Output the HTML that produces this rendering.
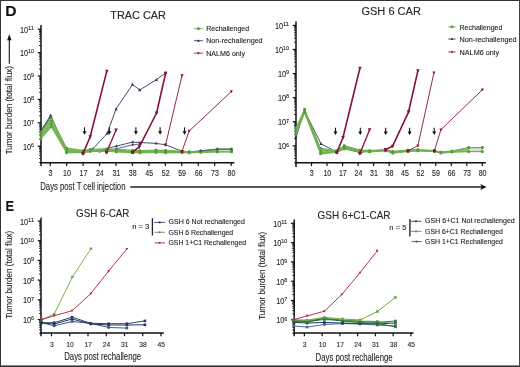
<!DOCTYPE html>
<html><head><meta charset="utf-8"><style>
html,body{margin:0;padding:0;background:#fff;overflow:hidden;}
svg{display:block;will-change:transform;}
text{stroke:#2a2a2a;stroke-width:0.12px;}
</style></head><body>
<svg width="520" height="367" viewBox="0 0 520 367" font-family='"Liberation Sans", sans-serif'>
<rect x="0" y="0" width="520" height="367" fill="#fff"/>
<text x="5.25" y="15.65" font-size="13.80" font-weight="bold" fill="#111" textLength="11.29" lengthAdjust="spacingAndGlyphs">D</text>
<text x="5.60" y="211.35" font-size="13.80" font-weight="bold" fill="#111" textLength="8.54" lengthAdjust="spacingAndGlyphs">E</text>
<text x="110.35" y="19.15" font-size="11.45" font-weight="normal" fill="#262626" textLength="55.57" lengthAdjust="spacingAndGlyphs">TRAC CAR</text>
<text x="361.40" y="15.20" font-size="11.64" font-weight="normal" fill="#262626" textLength="59.57" lengthAdjust="spacingAndGlyphs">GSH 6 CAR</text>
<text x="76.05" y="217.40" font-size="10.34" font-weight="normal" fill="#262626" textLength="53.37" lengthAdjust="spacingAndGlyphs">GSH 6-CAR</text>
<text x="317.60" y="219.18" font-size="10.12" font-weight="normal" fill="#262626" textLength="72.92" lengthAdjust="spacingAndGlyphs">GSH 6+C1-CAR</text>
<text x="206.20" y="31.15" font-size="6.90" font-weight="normal" fill="#262626" textLength="42.97" lengthAdjust="spacingAndGlyphs">Rechallenged</text>
<text x="206.20" y="43.25" font-size="6.90" font-weight="normal" fill="#262626" textLength="56.42" lengthAdjust="spacingAndGlyphs">Non-rechallenged</text>
<text x="206.20" y="56.05" font-size="6.90" font-weight="normal" fill="#262626" textLength="38.77" lengthAdjust="spacingAndGlyphs">NALM6 only</text>
<text x="459.50" y="30.00" font-size="6.75" font-weight="normal" fill="#262626" textLength="42.92" lengthAdjust="spacingAndGlyphs">Rechallenged</text>
<text x="459.50" y="41.60" font-size="6.75" font-weight="normal" fill="#262626" textLength="57.02" lengthAdjust="spacingAndGlyphs">Non-rechallenged</text>
<text x="459.50" y="54.65" font-size="6.75" font-weight="normal" fill="#262626" textLength="39.61" lengthAdjust="spacingAndGlyphs">NALM6 only</text>
<text x="168.45" y="224.25" font-size="6.70" font-weight="normal" fill="#262626" textLength="76.51" lengthAdjust="spacingAndGlyphs">GSH 6 Not rechallenged</text>
<text x="168.45" y="234.50" font-size="6.70" font-weight="normal" fill="#262626" textLength="64.76" lengthAdjust="spacingAndGlyphs">GSH 6 Rechallenged</text>
<text x="168.45" y="244.85" font-size="6.70" font-weight="normal" fill="#262626" textLength="77.61" lengthAdjust="spacingAndGlyphs">GSH 1+C1 Rechallenged</text>
<text x="425.10" y="223.30" font-size="6.90" font-weight="normal" fill="#262626" textLength="89.71" lengthAdjust="spacingAndGlyphs">GSH 6+C1 Not rechallenged</text>
<text x="425.10" y="233.65" font-size="6.90" font-weight="normal" fill="#262626" textLength="77.76" lengthAdjust="spacingAndGlyphs">GSH 6+C1 Rechallenged</text>
<text x="425.10" y="243.70" font-size="6.90" font-weight="normal" fill="#262626" textLength="77.76" lengthAdjust="spacingAndGlyphs">GSH 1+C1 Rechallenged</text>
<text x="132.15" y="229.15" font-size="7.23" font-weight="normal" fill="#262626" textLength="17.16" lengthAdjust="spacingAndGlyphs">n = 3</text>
<text x="389.35" y="229.77" font-size="7.67" font-weight="normal" fill="#262626" textLength="17.00" lengthAdjust="spacingAndGlyphs">n = 5</text>
<text x="40.25" y="190.25" font-size="10.40" font-weight="normal" fill="#262626" textLength="85.22" lengthAdjust="spacingAndGlyphs">Days post T cell injection</text>
<text x="64.20" y="360.15" font-size="10.40" font-weight="normal" fill="#262626" textLength="76.96" lengthAdjust="spacingAndGlyphs">Days post rechallenge</text>
<text x="315.55" y="360.90" font-size="10.40" font-weight="normal" fill="#262626" textLength="77.11" lengthAdjust="spacingAndGlyphs">Days post rechallenge</text>
<text transform="translate(12.15,154.30) rotate(-90)" font-size="9.60" font-weight="normal" fill="#262626" textLength="88.21" lengthAdjust="spacingAndGlyphs">Tumor burden (total flux)</text>
<text transform="translate(12.10,318.80) rotate(-90)" font-size="9.60" font-weight="normal" fill="#262626" textLength="87.95" lengthAdjust="spacingAndGlyphs">Tumor burden (total flux)</text>
<text transform="translate(265.20,319.80) rotate(-90)" font-size="9.60" font-weight="normal" fill="#262626" textLength="87.95" lengthAdjust="spacingAndGlyphs">Tumor burden (total flux)</text>
<line x1="41.00" y1="25.00" x2="41.00" y2="166.00" stroke="#111" stroke-width="1.5"/>
<line x1="37.70" y1="29.20" x2="41.00" y2="29.20" stroke="#111" stroke-width="1.2"/>
<text x="28.00" y="30.00" font-size="6.0" fill="#262626" textLength="6.00" lengthAdjust="spacingAndGlyphs">11</text>
<text x="19.97" y="32.70" font-size="8.6" fill="#262626" textLength="8.22" lengthAdjust="spacingAndGlyphs">10</text>
<line x1="37.70" y1="52.60" x2="41.00" y2="52.60" stroke="#111" stroke-width="1.2"/>
<text x="28.00" y="53.40" font-size="6.0" fill="#262626" textLength="6.00" lengthAdjust="spacingAndGlyphs">10</text>
<text x="19.97" y="56.10" font-size="8.6" fill="#262626" textLength="8.22" lengthAdjust="spacingAndGlyphs">10</text>
<line x1="37.70" y1="76.00" x2="41.00" y2="76.00" stroke="#111" stroke-width="1.2"/>
<text x="31.00" y="76.80" font-size="6.0" fill="#262626" textLength="3.00" lengthAdjust="spacingAndGlyphs">9</text>
<text x="22.97" y="79.50" font-size="8.6" fill="#262626" textLength="8.22" lengthAdjust="spacingAndGlyphs">10</text>
<line x1="37.70" y1="99.40" x2="41.00" y2="99.40" stroke="#111" stroke-width="1.2"/>
<text x="31.00" y="100.20" font-size="6.0" fill="#262626" textLength="3.00" lengthAdjust="spacingAndGlyphs">8</text>
<text x="22.97" y="102.90" font-size="8.6" fill="#262626" textLength="8.22" lengthAdjust="spacingAndGlyphs">10</text>
<line x1="37.70" y1="122.80" x2="41.00" y2="122.80" stroke="#111" stroke-width="1.2"/>
<text x="31.00" y="123.60" font-size="6.0" fill="#262626" textLength="3.00" lengthAdjust="spacingAndGlyphs">7</text>
<text x="22.97" y="126.30" font-size="8.6" fill="#262626" textLength="8.22" lengthAdjust="spacingAndGlyphs">10</text>
<line x1="37.70" y1="146.20" x2="41.00" y2="146.20" stroke="#111" stroke-width="1.2"/>
<text x="31.00" y="147.00" font-size="6.0" fill="#262626" textLength="3.00" lengthAdjust="spacingAndGlyphs">6</text>
<text x="22.97" y="149.70" font-size="8.6" fill="#262626" textLength="8.22" lengthAdjust="spacingAndGlyphs">10</text>
<line x1="39.10" y1="45.56" x2="41.00" y2="45.56" stroke="#111" stroke-width="0.9"/>
<line x1="39.10" y1="41.44" x2="41.00" y2="41.44" stroke="#111" stroke-width="0.9"/>
<line x1="39.10" y1="38.51" x2="41.00" y2="38.51" stroke="#111" stroke-width="0.9"/>
<line x1="39.10" y1="36.24" x2="41.00" y2="36.24" stroke="#111" stroke-width="0.9"/>
<line x1="39.10" y1="34.39" x2="41.00" y2="34.39" stroke="#111" stroke-width="0.9"/>
<line x1="39.10" y1="32.82" x2="41.00" y2="32.82" stroke="#111" stroke-width="0.9"/>
<line x1="39.10" y1="31.47" x2="41.00" y2="31.47" stroke="#111" stroke-width="0.9"/>
<line x1="39.10" y1="30.27" x2="41.00" y2="30.27" stroke="#111" stroke-width="0.9"/>
<line x1="39.10" y1="68.96" x2="41.00" y2="68.96" stroke="#111" stroke-width="0.9"/>
<line x1="39.10" y1="64.84" x2="41.00" y2="64.84" stroke="#111" stroke-width="0.9"/>
<line x1="39.10" y1="61.91" x2="41.00" y2="61.91" stroke="#111" stroke-width="0.9"/>
<line x1="39.10" y1="59.64" x2="41.00" y2="59.64" stroke="#111" stroke-width="0.9"/>
<line x1="39.10" y1="57.79" x2="41.00" y2="57.79" stroke="#111" stroke-width="0.9"/>
<line x1="39.10" y1="56.22" x2="41.00" y2="56.22" stroke="#111" stroke-width="0.9"/>
<line x1="39.10" y1="54.87" x2="41.00" y2="54.87" stroke="#111" stroke-width="0.9"/>
<line x1="39.10" y1="53.67" x2="41.00" y2="53.67" stroke="#111" stroke-width="0.9"/>
<line x1="39.10" y1="92.36" x2="41.00" y2="92.36" stroke="#111" stroke-width="0.9"/>
<line x1="39.10" y1="88.24" x2="41.00" y2="88.24" stroke="#111" stroke-width="0.9"/>
<line x1="39.10" y1="85.31" x2="41.00" y2="85.31" stroke="#111" stroke-width="0.9"/>
<line x1="39.10" y1="83.04" x2="41.00" y2="83.04" stroke="#111" stroke-width="0.9"/>
<line x1="39.10" y1="81.19" x2="41.00" y2="81.19" stroke="#111" stroke-width="0.9"/>
<line x1="39.10" y1="79.62" x2="41.00" y2="79.62" stroke="#111" stroke-width="0.9"/>
<line x1="39.10" y1="78.27" x2="41.00" y2="78.27" stroke="#111" stroke-width="0.9"/>
<line x1="39.10" y1="77.07" x2="41.00" y2="77.07" stroke="#111" stroke-width="0.9"/>
<line x1="39.10" y1="115.76" x2="41.00" y2="115.76" stroke="#111" stroke-width="0.9"/>
<line x1="39.10" y1="111.64" x2="41.00" y2="111.64" stroke="#111" stroke-width="0.9"/>
<line x1="39.10" y1="108.71" x2="41.00" y2="108.71" stroke="#111" stroke-width="0.9"/>
<line x1="39.10" y1="106.44" x2="41.00" y2="106.44" stroke="#111" stroke-width="0.9"/>
<line x1="39.10" y1="104.59" x2="41.00" y2="104.59" stroke="#111" stroke-width="0.9"/>
<line x1="39.10" y1="103.02" x2="41.00" y2="103.02" stroke="#111" stroke-width="0.9"/>
<line x1="39.10" y1="101.67" x2="41.00" y2="101.67" stroke="#111" stroke-width="0.9"/>
<line x1="39.10" y1="100.47" x2="41.00" y2="100.47" stroke="#111" stroke-width="0.9"/>
<line x1="39.10" y1="139.16" x2="41.00" y2="139.16" stroke="#111" stroke-width="0.9"/>
<line x1="39.10" y1="135.04" x2="41.00" y2="135.04" stroke="#111" stroke-width="0.9"/>
<line x1="39.10" y1="132.11" x2="41.00" y2="132.11" stroke="#111" stroke-width="0.9"/>
<line x1="39.10" y1="129.84" x2="41.00" y2="129.84" stroke="#111" stroke-width="0.9"/>
<line x1="39.10" y1="127.99" x2="41.00" y2="127.99" stroke="#111" stroke-width="0.9"/>
<line x1="39.10" y1="126.42" x2="41.00" y2="126.42" stroke="#111" stroke-width="0.9"/>
<line x1="39.10" y1="125.07" x2="41.00" y2="125.07" stroke="#111" stroke-width="0.9"/>
<line x1="39.10" y1="123.87" x2="41.00" y2="123.87" stroke="#111" stroke-width="0.9"/>
<line x1="39.10" y1="162.56" x2="41.00" y2="162.56" stroke="#111" stroke-width="0.9"/>
<line x1="39.10" y1="158.44" x2="41.00" y2="158.44" stroke="#111" stroke-width="0.9"/>
<line x1="39.10" y1="155.51" x2="41.00" y2="155.51" stroke="#111" stroke-width="0.9"/>
<line x1="39.10" y1="153.24" x2="41.00" y2="153.24" stroke="#111" stroke-width="0.9"/>
<line x1="39.10" y1="151.39" x2="41.00" y2="151.39" stroke="#111" stroke-width="0.9"/>
<line x1="39.10" y1="149.82" x2="41.00" y2="149.82" stroke="#111" stroke-width="0.9"/>
<line x1="39.10" y1="148.47" x2="41.00" y2="148.47" stroke="#111" stroke-width="0.9"/>
<line x1="39.10" y1="147.27" x2="41.00" y2="147.27" stroke="#111" stroke-width="0.9"/>
<line x1="40.25" y1="162.70" x2="234.40" y2="162.70" stroke="#111" stroke-width="1.5"/>
<line x1="50.20" y1="162.70" x2="50.20" y2="166.00" stroke="#111" stroke-width="1.2"/>
<text x="50.50" y="176.20" font-size="8.2" fill="#262626" font-weight="normal" text-anchor="middle" textLength="3.92" lengthAdjust="spacingAndGlyphs" >3</text>
<line x1="66.65" y1="162.70" x2="66.65" y2="166.00" stroke="#111" stroke-width="1.2"/>
<text x="66.95" y="176.20" font-size="8.2" fill="#262626" font-weight="normal" text-anchor="middle" textLength="7.84" lengthAdjust="spacingAndGlyphs" >10</text>
<line x1="83.10" y1="162.70" x2="83.10" y2="166.00" stroke="#111" stroke-width="1.2"/>
<text x="83.40" y="176.20" font-size="8.2" fill="#262626" font-weight="normal" text-anchor="middle" textLength="7.84" lengthAdjust="spacingAndGlyphs" >17</text>
<line x1="99.55" y1="162.70" x2="99.55" y2="166.00" stroke="#111" stroke-width="1.2"/>
<text x="99.85" y="176.20" font-size="8.2" fill="#262626" font-weight="normal" text-anchor="middle" textLength="7.84" lengthAdjust="spacingAndGlyphs" >24</text>
<line x1="116.00" y1="162.70" x2="116.00" y2="166.00" stroke="#111" stroke-width="1.2"/>
<text x="116.30" y="176.20" font-size="8.2" fill="#262626" font-weight="normal" text-anchor="middle" textLength="7.84" lengthAdjust="spacingAndGlyphs" >31</text>
<line x1="132.45" y1="162.70" x2="132.45" y2="166.00" stroke="#111" stroke-width="1.2"/>
<text x="132.75" y="176.20" font-size="8.2" fill="#262626" font-weight="normal" text-anchor="middle" textLength="7.84" lengthAdjust="spacingAndGlyphs" >38</text>
<line x1="148.90" y1="162.70" x2="148.90" y2="166.00" stroke="#111" stroke-width="1.2"/>
<text x="149.20" y="176.20" font-size="8.2" fill="#262626" font-weight="normal" text-anchor="middle" textLength="7.84" lengthAdjust="spacingAndGlyphs" >45</text>
<line x1="165.35" y1="162.70" x2="165.35" y2="166.00" stroke="#111" stroke-width="1.2"/>
<text x="165.65" y="176.20" font-size="8.2" fill="#262626" font-weight="normal" text-anchor="middle" textLength="7.84" lengthAdjust="spacingAndGlyphs" >52</text>
<line x1="181.80" y1="162.70" x2="181.80" y2="166.00" stroke="#111" stroke-width="1.2"/>
<text x="182.10" y="176.20" font-size="8.2" fill="#262626" font-weight="normal" text-anchor="middle" textLength="7.84" lengthAdjust="spacingAndGlyphs" >59</text>
<line x1="198.25" y1="162.70" x2="198.25" y2="166.00" stroke="#111" stroke-width="1.2"/>
<text x="198.55" y="176.20" font-size="8.2" fill="#262626" font-weight="normal" text-anchor="middle" textLength="7.84" lengthAdjust="spacingAndGlyphs" >66</text>
<line x1="214.70" y1="162.70" x2="214.70" y2="166.00" stroke="#111" stroke-width="1.2"/>
<text x="215.00" y="176.20" font-size="8.2" fill="#262626" font-weight="normal" text-anchor="middle" textLength="7.84" lengthAdjust="spacingAndGlyphs" >73</text>
<line x1="231.15" y1="162.70" x2="231.15" y2="166.00" stroke="#111" stroke-width="1.2"/>
<text x="231.45" y="176.20" font-size="8.2" fill="#262626" font-weight="normal" text-anchor="middle" textLength="7.84" lengthAdjust="spacingAndGlyphs" >80</text>
<line x1="296.00" y1="21.50" x2="296.00" y2="167.00" stroke="#111" stroke-width="1.5"/>
<line x1="292.70" y1="25.40" x2="296.00" y2="25.40" stroke="#111" stroke-width="1.2"/>
<text x="283.00" y="26.20" font-size="6.0" fill="#262626" textLength="6.00" lengthAdjust="spacingAndGlyphs">11</text>
<text x="274.97" y="28.90" font-size="8.6" fill="#262626" textLength="8.22" lengthAdjust="spacingAndGlyphs">10</text>
<line x1="292.70" y1="49.48" x2="296.00" y2="49.48" stroke="#111" stroke-width="1.2"/>
<text x="283.00" y="50.28" font-size="6.0" fill="#262626" textLength="6.00" lengthAdjust="spacingAndGlyphs">10</text>
<text x="274.97" y="52.98" font-size="8.6" fill="#262626" textLength="8.22" lengthAdjust="spacingAndGlyphs">10</text>
<line x1="292.70" y1="73.56" x2="296.00" y2="73.56" stroke="#111" stroke-width="1.2"/>
<text x="286.00" y="74.36" font-size="6.0" fill="#262626" textLength="3.00" lengthAdjust="spacingAndGlyphs">9</text>
<text x="277.97" y="77.06" font-size="8.6" fill="#262626" textLength="8.22" lengthAdjust="spacingAndGlyphs">10</text>
<line x1="292.70" y1="97.64" x2="296.00" y2="97.64" stroke="#111" stroke-width="1.2"/>
<text x="286.00" y="98.44" font-size="6.0" fill="#262626" textLength="3.00" lengthAdjust="spacingAndGlyphs">8</text>
<text x="277.97" y="101.14" font-size="8.6" fill="#262626" textLength="8.22" lengthAdjust="spacingAndGlyphs">10</text>
<line x1="292.70" y1="121.72" x2="296.00" y2="121.72" stroke="#111" stroke-width="1.2"/>
<text x="286.00" y="122.52" font-size="6.0" fill="#262626" textLength="3.00" lengthAdjust="spacingAndGlyphs">7</text>
<text x="277.97" y="125.22" font-size="8.6" fill="#262626" textLength="8.22" lengthAdjust="spacingAndGlyphs">10</text>
<line x1="292.70" y1="145.80" x2="296.00" y2="145.80" stroke="#111" stroke-width="1.2"/>
<text x="286.00" y="146.60" font-size="6.0" fill="#262626" textLength="3.00" lengthAdjust="spacingAndGlyphs">6</text>
<text x="277.97" y="149.30" font-size="8.6" fill="#262626" textLength="8.22" lengthAdjust="spacingAndGlyphs">10</text>
<line x1="294.10" y1="42.23" x2="296.00" y2="42.23" stroke="#111" stroke-width="0.9"/>
<line x1="294.10" y1="37.99" x2="296.00" y2="37.99" stroke="#111" stroke-width="0.9"/>
<line x1="294.10" y1="34.98" x2="296.00" y2="34.98" stroke="#111" stroke-width="0.9"/>
<line x1="294.10" y1="32.65" x2="296.00" y2="32.65" stroke="#111" stroke-width="0.9"/>
<line x1="294.10" y1="30.74" x2="296.00" y2="30.74" stroke="#111" stroke-width="0.9"/>
<line x1="294.10" y1="29.13" x2="296.00" y2="29.13" stroke="#111" stroke-width="0.9"/>
<line x1="294.10" y1="27.73" x2="296.00" y2="27.73" stroke="#111" stroke-width="0.9"/>
<line x1="294.10" y1="26.50" x2="296.00" y2="26.50" stroke="#111" stroke-width="0.9"/>
<line x1="294.10" y1="66.31" x2="296.00" y2="66.31" stroke="#111" stroke-width="0.9"/>
<line x1="294.10" y1="62.07" x2="296.00" y2="62.07" stroke="#111" stroke-width="0.9"/>
<line x1="294.10" y1="59.06" x2="296.00" y2="59.06" stroke="#111" stroke-width="0.9"/>
<line x1="294.10" y1="56.73" x2="296.00" y2="56.73" stroke="#111" stroke-width="0.9"/>
<line x1="294.10" y1="54.82" x2="296.00" y2="54.82" stroke="#111" stroke-width="0.9"/>
<line x1="294.10" y1="53.21" x2="296.00" y2="53.21" stroke="#111" stroke-width="0.9"/>
<line x1="294.10" y1="51.81" x2="296.00" y2="51.81" stroke="#111" stroke-width="0.9"/>
<line x1="294.10" y1="50.58" x2="296.00" y2="50.58" stroke="#111" stroke-width="0.9"/>
<line x1="294.10" y1="90.39" x2="296.00" y2="90.39" stroke="#111" stroke-width="0.9"/>
<line x1="294.10" y1="86.15" x2="296.00" y2="86.15" stroke="#111" stroke-width="0.9"/>
<line x1="294.10" y1="83.14" x2="296.00" y2="83.14" stroke="#111" stroke-width="0.9"/>
<line x1="294.10" y1="80.81" x2="296.00" y2="80.81" stroke="#111" stroke-width="0.9"/>
<line x1="294.10" y1="78.90" x2="296.00" y2="78.90" stroke="#111" stroke-width="0.9"/>
<line x1="294.10" y1="77.29" x2="296.00" y2="77.29" stroke="#111" stroke-width="0.9"/>
<line x1="294.10" y1="75.89" x2="296.00" y2="75.89" stroke="#111" stroke-width="0.9"/>
<line x1="294.10" y1="74.66" x2="296.00" y2="74.66" stroke="#111" stroke-width="0.9"/>
<line x1="294.10" y1="114.47" x2="296.00" y2="114.47" stroke="#111" stroke-width="0.9"/>
<line x1="294.10" y1="110.23" x2="296.00" y2="110.23" stroke="#111" stroke-width="0.9"/>
<line x1="294.10" y1="107.22" x2="296.00" y2="107.22" stroke="#111" stroke-width="0.9"/>
<line x1="294.10" y1="104.89" x2="296.00" y2="104.89" stroke="#111" stroke-width="0.9"/>
<line x1="294.10" y1="102.98" x2="296.00" y2="102.98" stroke="#111" stroke-width="0.9"/>
<line x1="294.10" y1="101.37" x2="296.00" y2="101.37" stroke="#111" stroke-width="0.9"/>
<line x1="294.10" y1="99.97" x2="296.00" y2="99.97" stroke="#111" stroke-width="0.9"/>
<line x1="294.10" y1="98.74" x2="296.00" y2="98.74" stroke="#111" stroke-width="0.9"/>
<line x1="294.10" y1="138.55" x2="296.00" y2="138.55" stroke="#111" stroke-width="0.9"/>
<line x1="294.10" y1="134.31" x2="296.00" y2="134.31" stroke="#111" stroke-width="0.9"/>
<line x1="294.10" y1="131.30" x2="296.00" y2="131.30" stroke="#111" stroke-width="0.9"/>
<line x1="294.10" y1="128.97" x2="296.00" y2="128.97" stroke="#111" stroke-width="0.9"/>
<line x1="294.10" y1="127.06" x2="296.00" y2="127.06" stroke="#111" stroke-width="0.9"/>
<line x1="294.10" y1="125.45" x2="296.00" y2="125.45" stroke="#111" stroke-width="0.9"/>
<line x1="294.10" y1="124.05" x2="296.00" y2="124.05" stroke="#111" stroke-width="0.9"/>
<line x1="294.10" y1="122.82" x2="296.00" y2="122.82" stroke="#111" stroke-width="0.9"/>
<line x1="294.10" y1="162.63" x2="296.00" y2="162.63" stroke="#111" stroke-width="0.9"/>
<line x1="294.10" y1="158.39" x2="296.00" y2="158.39" stroke="#111" stroke-width="0.9"/>
<line x1="294.10" y1="155.38" x2="296.00" y2="155.38" stroke="#111" stroke-width="0.9"/>
<line x1="294.10" y1="153.05" x2="296.00" y2="153.05" stroke="#111" stroke-width="0.9"/>
<line x1="294.10" y1="151.14" x2="296.00" y2="151.14" stroke="#111" stroke-width="0.9"/>
<line x1="294.10" y1="149.53" x2="296.00" y2="149.53" stroke="#111" stroke-width="0.9"/>
<line x1="294.10" y1="148.13" x2="296.00" y2="148.13" stroke="#111" stroke-width="0.9"/>
<line x1="294.10" y1="146.90" x2="296.00" y2="146.90" stroke="#111" stroke-width="0.9"/>
<line x1="295.25" y1="162.80" x2="485.80" y2="162.80" stroke="#111" stroke-width="1.5"/>
<line x1="311.50" y1="162.80" x2="311.50" y2="166.10" stroke="#111" stroke-width="1.2"/>
<text x="311.80" y="176.20" font-size="8.2" fill="#262626" font-weight="normal" text-anchor="middle" textLength="3.92" lengthAdjust="spacingAndGlyphs" >3</text>
<line x1="327.03" y1="162.80" x2="327.03" y2="166.10" stroke="#111" stroke-width="1.2"/>
<text x="327.33" y="176.20" font-size="8.2" fill="#262626" font-weight="normal" text-anchor="middle" textLength="7.84" lengthAdjust="spacingAndGlyphs" >10</text>
<line x1="342.56" y1="162.80" x2="342.56" y2="166.10" stroke="#111" stroke-width="1.2"/>
<text x="342.86" y="176.20" font-size="8.2" fill="#262626" font-weight="normal" text-anchor="middle" textLength="7.84" lengthAdjust="spacingAndGlyphs" >17</text>
<line x1="358.09" y1="162.80" x2="358.09" y2="166.10" stroke="#111" stroke-width="1.2"/>
<text x="358.39" y="176.20" font-size="8.2" fill="#262626" font-weight="normal" text-anchor="middle" textLength="7.84" lengthAdjust="spacingAndGlyphs" >24</text>
<line x1="373.62" y1="162.80" x2="373.62" y2="166.10" stroke="#111" stroke-width="1.2"/>
<text x="373.92" y="176.20" font-size="8.2" fill="#262626" font-weight="normal" text-anchor="middle" textLength="7.84" lengthAdjust="spacingAndGlyphs" >31</text>
<line x1="389.15" y1="162.80" x2="389.15" y2="166.10" stroke="#111" stroke-width="1.2"/>
<text x="389.45" y="176.20" font-size="8.2" fill="#262626" font-weight="normal" text-anchor="middle" textLength="7.84" lengthAdjust="spacingAndGlyphs" >38</text>
<line x1="404.68" y1="162.80" x2="404.68" y2="166.10" stroke="#111" stroke-width="1.2"/>
<text x="404.98" y="176.20" font-size="8.2" fill="#262626" font-weight="normal" text-anchor="middle" textLength="7.84" lengthAdjust="spacingAndGlyphs" >45</text>
<line x1="420.21" y1="162.80" x2="420.21" y2="166.10" stroke="#111" stroke-width="1.2"/>
<text x="420.51" y="176.20" font-size="8.2" fill="#262626" font-weight="normal" text-anchor="middle" textLength="7.84" lengthAdjust="spacingAndGlyphs" >52</text>
<line x1="435.74" y1="162.80" x2="435.74" y2="166.10" stroke="#111" stroke-width="1.2"/>
<text x="436.04" y="176.20" font-size="8.2" fill="#262626" font-weight="normal" text-anchor="middle" textLength="7.84" lengthAdjust="spacingAndGlyphs" >59</text>
<line x1="451.27" y1="162.80" x2="451.27" y2="166.10" stroke="#111" stroke-width="1.2"/>
<text x="451.57" y="176.20" font-size="8.2" fill="#262626" font-weight="normal" text-anchor="middle" textLength="7.84" lengthAdjust="spacingAndGlyphs" >66</text>
<line x1="466.80" y1="162.80" x2="466.80" y2="166.10" stroke="#111" stroke-width="1.2"/>
<text x="467.10" y="176.20" font-size="8.2" fill="#262626" font-weight="normal" text-anchor="middle" textLength="7.84" lengthAdjust="spacingAndGlyphs" >73</text>
<line x1="482.33" y1="162.80" x2="482.33" y2="166.10" stroke="#111" stroke-width="1.2"/>
<text x="482.63" y="176.20" font-size="8.2" fill="#262626" font-weight="normal" text-anchor="middle" textLength="7.84" lengthAdjust="spacingAndGlyphs" >80</text>
<line x1="41.00" y1="217.70" x2="41.00" y2="336.20" stroke="#111" stroke-width="1.5"/>
<line x1="37.70" y1="221.00" x2="41.00" y2="221.00" stroke="#111" stroke-width="1.2"/>
<text x="28.00" y="221.80" font-size="6.0" fill="#262626" textLength="6.00" lengthAdjust="spacingAndGlyphs">11</text>
<text x="19.97" y="224.50" font-size="8.6" fill="#262626" textLength="8.22" lengthAdjust="spacingAndGlyphs">10</text>
<line x1="37.70" y1="240.70" x2="41.00" y2="240.70" stroke="#111" stroke-width="1.2"/>
<text x="28.00" y="241.50" font-size="6.0" fill="#262626" textLength="6.00" lengthAdjust="spacingAndGlyphs">10</text>
<text x="19.97" y="244.20" font-size="8.6" fill="#262626" textLength="8.22" lengthAdjust="spacingAndGlyphs">10</text>
<line x1="37.70" y1="260.40" x2="41.00" y2="260.40" stroke="#111" stroke-width="1.2"/>
<text x="31.00" y="261.20" font-size="6.0" fill="#262626" textLength="3.00" lengthAdjust="spacingAndGlyphs">9</text>
<text x="22.97" y="263.90" font-size="8.6" fill="#262626" textLength="8.22" lengthAdjust="spacingAndGlyphs">10</text>
<line x1="37.70" y1="280.10" x2="41.00" y2="280.10" stroke="#111" stroke-width="1.2"/>
<text x="31.00" y="280.90" font-size="6.0" fill="#262626" textLength="3.00" lengthAdjust="spacingAndGlyphs">8</text>
<text x="22.97" y="283.60" font-size="8.6" fill="#262626" textLength="8.22" lengthAdjust="spacingAndGlyphs">10</text>
<line x1="37.70" y1="299.80" x2="41.00" y2="299.80" stroke="#111" stroke-width="1.2"/>
<text x="31.00" y="300.60" font-size="6.0" fill="#262626" textLength="3.00" lengthAdjust="spacingAndGlyphs">7</text>
<text x="22.97" y="303.30" font-size="8.6" fill="#262626" textLength="8.22" lengthAdjust="spacingAndGlyphs">10</text>
<line x1="37.70" y1="319.50" x2="41.00" y2="319.50" stroke="#111" stroke-width="1.2"/>
<text x="31.00" y="320.30" font-size="6.0" fill="#262626" textLength="3.00" lengthAdjust="spacingAndGlyphs">6</text>
<text x="22.97" y="323.00" font-size="8.6" fill="#262626" textLength="8.22" lengthAdjust="spacingAndGlyphs">10</text>
<line x1="39.10" y1="234.77" x2="41.00" y2="234.77" stroke="#111" stroke-width="0.9"/>
<line x1="39.10" y1="231.30" x2="41.00" y2="231.30" stroke="#111" stroke-width="0.9"/>
<line x1="39.10" y1="228.84" x2="41.00" y2="228.84" stroke="#111" stroke-width="0.9"/>
<line x1="39.10" y1="226.93" x2="41.00" y2="226.93" stroke="#111" stroke-width="0.9"/>
<line x1="39.10" y1="225.37" x2="41.00" y2="225.37" stroke="#111" stroke-width="0.9"/>
<line x1="39.10" y1="224.05" x2="41.00" y2="224.05" stroke="#111" stroke-width="0.9"/>
<line x1="39.10" y1="222.91" x2="41.00" y2="222.91" stroke="#111" stroke-width="0.9"/>
<line x1="39.10" y1="221.90" x2="41.00" y2="221.90" stroke="#111" stroke-width="0.9"/>
<line x1="39.10" y1="254.47" x2="41.00" y2="254.47" stroke="#111" stroke-width="0.9"/>
<line x1="39.10" y1="251.00" x2="41.00" y2="251.00" stroke="#111" stroke-width="0.9"/>
<line x1="39.10" y1="248.54" x2="41.00" y2="248.54" stroke="#111" stroke-width="0.9"/>
<line x1="39.10" y1="246.63" x2="41.00" y2="246.63" stroke="#111" stroke-width="0.9"/>
<line x1="39.10" y1="245.07" x2="41.00" y2="245.07" stroke="#111" stroke-width="0.9"/>
<line x1="39.10" y1="243.75" x2="41.00" y2="243.75" stroke="#111" stroke-width="0.9"/>
<line x1="39.10" y1="242.61" x2="41.00" y2="242.61" stroke="#111" stroke-width="0.9"/>
<line x1="39.10" y1="241.60" x2="41.00" y2="241.60" stroke="#111" stroke-width="0.9"/>
<line x1="39.10" y1="274.17" x2="41.00" y2="274.17" stroke="#111" stroke-width="0.9"/>
<line x1="39.10" y1="270.70" x2="41.00" y2="270.70" stroke="#111" stroke-width="0.9"/>
<line x1="39.10" y1="268.24" x2="41.00" y2="268.24" stroke="#111" stroke-width="0.9"/>
<line x1="39.10" y1="266.33" x2="41.00" y2="266.33" stroke="#111" stroke-width="0.9"/>
<line x1="39.10" y1="264.77" x2="41.00" y2="264.77" stroke="#111" stroke-width="0.9"/>
<line x1="39.10" y1="263.45" x2="41.00" y2="263.45" stroke="#111" stroke-width="0.9"/>
<line x1="39.10" y1="262.31" x2="41.00" y2="262.31" stroke="#111" stroke-width="0.9"/>
<line x1="39.10" y1="261.30" x2="41.00" y2="261.30" stroke="#111" stroke-width="0.9"/>
<line x1="39.10" y1="293.87" x2="41.00" y2="293.87" stroke="#111" stroke-width="0.9"/>
<line x1="39.10" y1="290.40" x2="41.00" y2="290.40" stroke="#111" stroke-width="0.9"/>
<line x1="39.10" y1="287.94" x2="41.00" y2="287.94" stroke="#111" stroke-width="0.9"/>
<line x1="39.10" y1="286.03" x2="41.00" y2="286.03" stroke="#111" stroke-width="0.9"/>
<line x1="39.10" y1="284.47" x2="41.00" y2="284.47" stroke="#111" stroke-width="0.9"/>
<line x1="39.10" y1="283.15" x2="41.00" y2="283.15" stroke="#111" stroke-width="0.9"/>
<line x1="39.10" y1="282.01" x2="41.00" y2="282.01" stroke="#111" stroke-width="0.9"/>
<line x1="39.10" y1="281.00" x2="41.00" y2="281.00" stroke="#111" stroke-width="0.9"/>
<line x1="39.10" y1="313.57" x2="41.00" y2="313.57" stroke="#111" stroke-width="0.9"/>
<line x1="39.10" y1="310.10" x2="41.00" y2="310.10" stroke="#111" stroke-width="0.9"/>
<line x1="39.10" y1="307.64" x2="41.00" y2="307.64" stroke="#111" stroke-width="0.9"/>
<line x1="39.10" y1="305.73" x2="41.00" y2="305.73" stroke="#111" stroke-width="0.9"/>
<line x1="39.10" y1="304.17" x2="41.00" y2="304.17" stroke="#111" stroke-width="0.9"/>
<line x1="39.10" y1="302.85" x2="41.00" y2="302.85" stroke="#111" stroke-width="0.9"/>
<line x1="39.10" y1="301.71" x2="41.00" y2="301.71" stroke="#111" stroke-width="0.9"/>
<line x1="39.10" y1="300.70" x2="41.00" y2="300.70" stroke="#111" stroke-width="0.9"/>
<line x1="39.10" y1="333.27" x2="41.00" y2="333.27" stroke="#111" stroke-width="0.9"/>
<line x1="39.10" y1="329.80" x2="41.00" y2="329.80" stroke="#111" stroke-width="0.9"/>
<line x1="39.10" y1="327.34" x2="41.00" y2="327.34" stroke="#111" stroke-width="0.9"/>
<line x1="39.10" y1="325.43" x2="41.00" y2="325.43" stroke="#111" stroke-width="0.9"/>
<line x1="39.10" y1="323.87" x2="41.00" y2="323.87" stroke="#111" stroke-width="0.9"/>
<line x1="39.10" y1="322.55" x2="41.00" y2="322.55" stroke="#111" stroke-width="0.9"/>
<line x1="39.10" y1="321.41" x2="41.00" y2="321.41" stroke="#111" stroke-width="0.9"/>
<line x1="39.10" y1="320.40" x2="41.00" y2="320.40" stroke="#111" stroke-width="0.9"/>
<line x1="40.25" y1="332.90" x2="163.75" y2="332.90" stroke="#111" stroke-width="1.5"/>
<line x1="51.50" y1="332.90" x2="51.50" y2="336.20" stroke="#111" stroke-width="1.2"/>
<text x="51.80" y="346.60" font-size="7.8" fill="#262626" font-weight="normal" text-anchor="middle" textLength="3.73" lengthAdjust="spacingAndGlyphs" >3</text>
<line x1="69.75" y1="332.90" x2="69.75" y2="336.20" stroke="#111" stroke-width="1.2"/>
<text x="70.05" y="346.60" font-size="7.8" fill="#262626" font-weight="normal" text-anchor="middle" textLength="7.46" lengthAdjust="spacingAndGlyphs" >10</text>
<line x1="88.00" y1="332.90" x2="88.00" y2="336.20" stroke="#111" stroke-width="1.2"/>
<text x="88.30" y="346.60" font-size="7.8" fill="#262626" font-weight="normal" text-anchor="middle" textLength="7.46" lengthAdjust="spacingAndGlyphs" >17</text>
<line x1="106.25" y1="332.90" x2="106.25" y2="336.20" stroke="#111" stroke-width="1.2"/>
<text x="106.55" y="346.60" font-size="7.8" fill="#262626" font-weight="normal" text-anchor="middle" textLength="7.46" lengthAdjust="spacingAndGlyphs" >24</text>
<line x1="124.50" y1="332.90" x2="124.50" y2="336.20" stroke="#111" stroke-width="1.2"/>
<text x="124.80" y="346.60" font-size="7.8" fill="#262626" font-weight="normal" text-anchor="middle" textLength="7.46" lengthAdjust="spacingAndGlyphs" >31</text>
<line x1="142.75" y1="332.90" x2="142.75" y2="336.20" stroke="#111" stroke-width="1.2"/>
<text x="143.05" y="346.60" font-size="7.8" fill="#262626" font-weight="normal" text-anchor="middle" textLength="7.46" lengthAdjust="spacingAndGlyphs" >38</text>
<line x1="161.00" y1="332.90" x2="161.00" y2="336.20" stroke="#111" stroke-width="1.2"/>
<text x="161.30" y="346.60" font-size="7.8" fill="#262626" font-weight="normal" text-anchor="middle" textLength="7.46" lengthAdjust="spacingAndGlyphs" >45</text>
<line x1="294.20" y1="219.60" x2="294.20" y2="336.20" stroke="#111" stroke-width="1.5"/>
<line x1="290.90" y1="223.30" x2="294.20" y2="223.30" stroke="#111" stroke-width="1.2"/>
<text x="281.20" y="224.10" font-size="6.0" fill="#262626" textLength="6.00" lengthAdjust="spacingAndGlyphs">11</text>
<text x="273.17" y="226.80" font-size="8.6" fill="#262626" textLength="8.22" lengthAdjust="spacingAndGlyphs">10</text>
<line x1="290.90" y1="242.60" x2="294.20" y2="242.60" stroke="#111" stroke-width="1.2"/>
<text x="281.20" y="243.40" font-size="6.0" fill="#262626" textLength="6.00" lengthAdjust="spacingAndGlyphs">10</text>
<text x="273.17" y="246.10" font-size="8.6" fill="#262626" textLength="8.22" lengthAdjust="spacingAndGlyphs">10</text>
<line x1="290.90" y1="261.90" x2="294.20" y2="261.90" stroke="#111" stroke-width="1.2"/>
<text x="284.20" y="262.70" font-size="6.0" fill="#262626" textLength="3.00" lengthAdjust="spacingAndGlyphs">9</text>
<text x="276.17" y="265.40" font-size="8.6" fill="#262626" textLength="8.22" lengthAdjust="spacingAndGlyphs">10</text>
<line x1="290.90" y1="281.20" x2="294.20" y2="281.20" stroke="#111" stroke-width="1.2"/>
<text x="284.20" y="282.00" font-size="6.0" fill="#262626" textLength="3.00" lengthAdjust="spacingAndGlyphs">8</text>
<text x="276.17" y="284.70" font-size="8.6" fill="#262626" textLength="8.22" lengthAdjust="spacingAndGlyphs">10</text>
<line x1="290.90" y1="300.50" x2="294.20" y2="300.50" stroke="#111" stroke-width="1.2"/>
<text x="284.20" y="301.30" font-size="6.0" fill="#262626" textLength="3.00" lengthAdjust="spacingAndGlyphs">7</text>
<text x="276.17" y="304.00" font-size="8.6" fill="#262626" textLength="8.22" lengthAdjust="spacingAndGlyphs">10</text>
<line x1="290.90" y1="319.80" x2="294.20" y2="319.80" stroke="#111" stroke-width="1.2"/>
<text x="284.20" y="320.60" font-size="6.0" fill="#262626" textLength="3.00" lengthAdjust="spacingAndGlyphs">6</text>
<text x="276.17" y="323.30" font-size="8.6" fill="#262626" textLength="8.22" lengthAdjust="spacingAndGlyphs">10</text>
<line x1="292.30" y1="236.79" x2="294.20" y2="236.79" stroke="#111" stroke-width="0.9"/>
<line x1="292.30" y1="233.39" x2="294.20" y2="233.39" stroke="#111" stroke-width="0.9"/>
<line x1="292.30" y1="230.98" x2="294.20" y2="230.98" stroke="#111" stroke-width="0.9"/>
<line x1="292.30" y1="229.11" x2="294.20" y2="229.11" stroke="#111" stroke-width="0.9"/>
<line x1="292.30" y1="227.58" x2="294.20" y2="227.58" stroke="#111" stroke-width="0.9"/>
<line x1="292.30" y1="226.29" x2="294.20" y2="226.29" stroke="#111" stroke-width="0.9"/>
<line x1="292.30" y1="225.17" x2="294.20" y2="225.17" stroke="#111" stroke-width="0.9"/>
<line x1="292.30" y1="224.18" x2="294.20" y2="224.18" stroke="#111" stroke-width="0.9"/>
<line x1="292.30" y1="256.09" x2="294.20" y2="256.09" stroke="#111" stroke-width="0.9"/>
<line x1="292.30" y1="252.69" x2="294.20" y2="252.69" stroke="#111" stroke-width="0.9"/>
<line x1="292.30" y1="250.28" x2="294.20" y2="250.28" stroke="#111" stroke-width="0.9"/>
<line x1="292.30" y1="248.41" x2="294.20" y2="248.41" stroke="#111" stroke-width="0.9"/>
<line x1="292.30" y1="246.88" x2="294.20" y2="246.88" stroke="#111" stroke-width="0.9"/>
<line x1="292.30" y1="245.59" x2="294.20" y2="245.59" stroke="#111" stroke-width="0.9"/>
<line x1="292.30" y1="244.47" x2="294.20" y2="244.47" stroke="#111" stroke-width="0.9"/>
<line x1="292.30" y1="243.48" x2="294.20" y2="243.48" stroke="#111" stroke-width="0.9"/>
<line x1="292.30" y1="275.39" x2="294.20" y2="275.39" stroke="#111" stroke-width="0.9"/>
<line x1="292.30" y1="271.99" x2="294.20" y2="271.99" stroke="#111" stroke-width="0.9"/>
<line x1="292.30" y1="269.58" x2="294.20" y2="269.58" stroke="#111" stroke-width="0.9"/>
<line x1="292.30" y1="267.71" x2="294.20" y2="267.71" stroke="#111" stroke-width="0.9"/>
<line x1="292.30" y1="266.18" x2="294.20" y2="266.18" stroke="#111" stroke-width="0.9"/>
<line x1="292.30" y1="264.89" x2="294.20" y2="264.89" stroke="#111" stroke-width="0.9"/>
<line x1="292.30" y1="263.77" x2="294.20" y2="263.77" stroke="#111" stroke-width="0.9"/>
<line x1="292.30" y1="262.78" x2="294.20" y2="262.78" stroke="#111" stroke-width="0.9"/>
<line x1="292.30" y1="294.69" x2="294.20" y2="294.69" stroke="#111" stroke-width="0.9"/>
<line x1="292.30" y1="291.29" x2="294.20" y2="291.29" stroke="#111" stroke-width="0.9"/>
<line x1="292.30" y1="288.88" x2="294.20" y2="288.88" stroke="#111" stroke-width="0.9"/>
<line x1="292.30" y1="287.01" x2="294.20" y2="287.01" stroke="#111" stroke-width="0.9"/>
<line x1="292.30" y1="285.48" x2="294.20" y2="285.48" stroke="#111" stroke-width="0.9"/>
<line x1="292.30" y1="284.19" x2="294.20" y2="284.19" stroke="#111" stroke-width="0.9"/>
<line x1="292.30" y1="283.07" x2="294.20" y2="283.07" stroke="#111" stroke-width="0.9"/>
<line x1="292.30" y1="282.08" x2="294.20" y2="282.08" stroke="#111" stroke-width="0.9"/>
<line x1="292.30" y1="313.99" x2="294.20" y2="313.99" stroke="#111" stroke-width="0.9"/>
<line x1="292.30" y1="310.59" x2="294.20" y2="310.59" stroke="#111" stroke-width="0.9"/>
<line x1="292.30" y1="308.18" x2="294.20" y2="308.18" stroke="#111" stroke-width="0.9"/>
<line x1="292.30" y1="306.31" x2="294.20" y2="306.31" stroke="#111" stroke-width="0.9"/>
<line x1="292.30" y1="304.78" x2="294.20" y2="304.78" stroke="#111" stroke-width="0.9"/>
<line x1="292.30" y1="303.49" x2="294.20" y2="303.49" stroke="#111" stroke-width="0.9"/>
<line x1="292.30" y1="302.37" x2="294.20" y2="302.37" stroke="#111" stroke-width="0.9"/>
<line x1="292.30" y1="301.38" x2="294.20" y2="301.38" stroke="#111" stroke-width="0.9"/>
<line x1="292.30" y1="333.29" x2="294.20" y2="333.29" stroke="#111" stroke-width="0.9"/>
<line x1="292.30" y1="329.89" x2="294.20" y2="329.89" stroke="#111" stroke-width="0.9"/>
<line x1="292.30" y1="327.48" x2="294.20" y2="327.48" stroke="#111" stroke-width="0.9"/>
<line x1="292.30" y1="325.61" x2="294.20" y2="325.61" stroke="#111" stroke-width="0.9"/>
<line x1="292.30" y1="324.08" x2="294.20" y2="324.08" stroke="#111" stroke-width="0.9"/>
<line x1="292.30" y1="322.79" x2="294.20" y2="322.79" stroke="#111" stroke-width="0.9"/>
<line x1="292.30" y1="321.67" x2="294.20" y2="321.67" stroke="#111" stroke-width="0.9"/>
<line x1="292.30" y1="320.68" x2="294.20" y2="320.68" stroke="#111" stroke-width="0.9"/>
<line x1="293.45" y1="333.00" x2="413.50" y2="333.00" stroke="#111" stroke-width="1.5"/>
<line x1="304.40" y1="333.00" x2="304.40" y2="336.30" stroke="#111" stroke-width="1.2"/>
<text x="304.70" y="346.60" font-size="7.8" fill="#262626" font-weight="normal" text-anchor="middle" textLength="3.73" lengthAdjust="spacingAndGlyphs" >3</text>
<line x1="322.15" y1="333.00" x2="322.15" y2="336.30" stroke="#111" stroke-width="1.2"/>
<text x="322.45" y="346.60" font-size="7.8" fill="#262626" font-weight="normal" text-anchor="middle" textLength="7.46" lengthAdjust="spacingAndGlyphs" >10</text>
<line x1="339.90" y1="333.00" x2="339.90" y2="336.30" stroke="#111" stroke-width="1.2"/>
<text x="340.20" y="346.60" font-size="7.8" fill="#262626" font-weight="normal" text-anchor="middle" textLength="7.46" lengthAdjust="spacingAndGlyphs" >17</text>
<line x1="357.65" y1="333.00" x2="357.65" y2="336.30" stroke="#111" stroke-width="1.2"/>
<text x="357.95" y="346.60" font-size="7.8" fill="#262626" font-weight="normal" text-anchor="middle" textLength="7.46" lengthAdjust="spacingAndGlyphs" >24</text>
<line x1="375.40" y1="333.00" x2="375.40" y2="336.30" stroke="#111" stroke-width="1.2"/>
<text x="375.70" y="346.60" font-size="7.8" fill="#262626" font-weight="normal" text-anchor="middle" textLength="7.46" lengthAdjust="spacingAndGlyphs" >31</text>
<line x1="393.15" y1="333.00" x2="393.15" y2="336.30" stroke="#111" stroke-width="1.2"/>
<text x="393.45" y="346.60" font-size="7.8" fill="#262626" font-weight="normal" text-anchor="middle" textLength="7.46" lengthAdjust="spacingAndGlyphs" >38</text>
<line x1="410.90" y1="333.00" x2="410.90" y2="336.30" stroke="#111" stroke-width="1.2"/>
<text x="411.20" y="346.60" font-size="7.8" fill="#262626" font-weight="normal" text-anchor="middle" textLength="7.46" lengthAdjust="spacingAndGlyphs" >45</text>
<line x1="130.30" y1="187.00" x2="482.00" y2="187.00" stroke="#222" stroke-width="1.4"/>
<path d="M486.6,187.0 L480.2,183.9 L481.8,187.0 L480.2,190.1Z" fill="#111"/>
<line x1="9.30" y1="63.70" x2="9.30" y2="39.00" stroke="#111" stroke-width="1.1"/>
<path d="M9.3,34.3 L7.1,40.2 L11.5,40.2Z" fill="#111"/>
<line x1="193.90" y1="28.70" x2="202.90" y2="28.70" stroke="#5c9e3c" stroke-width="0.8"/>
<rect x="197.10" y="27.40" width="2.60" height="2.60" fill="#5c9e3c"/>
<line x1="193.90" y1="40.70" x2="202.90" y2="40.70" stroke="#1f2a6b" stroke-width="0.8"/>
<path d="M198.40,39.14 L199.70,41.74 L197.10,41.74Z" fill="#1f2a6b"/>
<line x1="193.90" y1="53.20" x2="202.90" y2="53.20" stroke="#8a1530" stroke-width="0.8"/>
<path d="M198.40,54.76 L199.70,52.16 L197.10,52.16Z" fill="#8a1530"/>
<line x1="448.20" y1="26.80" x2="455.60" y2="26.80" stroke="#5c9e3c" stroke-width="0.8"/>
<rect x="450.60" y="25.50" width="2.60" height="2.60" fill="#5c9e3c"/>
<line x1="448.20" y1="39.00" x2="455.60" y2="39.00" stroke="#1f2a6b" stroke-width="0.8"/>
<path d="M451.90,37.44 L453.20,40.04 L450.60,40.04Z" fill="#1f2a6b"/>
<line x1="448.20" y1="52.00" x2="455.60" y2="52.00" stroke="#8a1530" stroke-width="0.8"/>
<path d="M451.90,53.56 L453.20,50.96 L450.60,50.96Z" fill="#8a1530"/>
<line x1="152.40" y1="218.10" x2="152.40" y2="235.50" stroke="#222" stroke-width="1.3"/>
<line x1="154.20" y1="222.40" x2="165.10" y2="222.40" stroke="#262a5a" stroke-width="0.8"/>
<rect x="158.75" y="221.50" width="1.80" height="1.80" fill="#262a5a"/>
<line x1="154.20" y1="232.30" x2="165.10" y2="232.30" stroke="#4f8a3a" stroke-width="0.8"/>
<rect x="158.75" y="231.40" width="1.80" height="1.80" fill="#4f8a3a"/>
<line x1="154.50" y1="242.90" x2="165.10" y2="242.90" stroke="#7a1a30" stroke-width="0.8"/>
<path d="M159.80,244.22 L160.90,242.02 L158.70,242.02Z" fill="#7a1a30"/>
<line x1="409.90" y1="219.00" x2="409.90" y2="236.40" stroke="#444" stroke-width="1.6"/>
<line x1="410.50" y1="221.30" x2="421.60" y2="221.30" stroke="#262a5a" stroke-width="0.8"/>
<rect x="415.15" y="220.40" width="1.80" height="1.80" fill="#262a5a"/>
<line x1="410.50" y1="231.40" x2="421.60" y2="231.40" stroke="#4f8a3a" stroke-width="0.8"/>
<rect x="415.15" y="230.50" width="1.80" height="1.80" fill="#4f8a3a"/>
<line x1="411.60" y1="241.60" x2="421.60" y2="241.60" stroke="#7a1a30" stroke-width="0.8"/>
<path d="M416.60,242.92 L417.70,240.72 L415.50,240.72Z" fill="#7a1a30"/>
<polyline points="41.00,130.60 50.60,115.30 66.60,151.30 83.00,152.30 92.90,148.90 107.20,133.40 116.10,108.90 132.50,84.50 139.70,90.00 156.30,79.80 165.60,72.90" fill="none" stroke="#33395e" stroke-width="0.9" stroke-linejoin="round" />
<path d="M41.00,128.68 L42.60,131.88 L39.40,131.88Z" fill="#33395e"/>
<path d="M50.60,113.38 L52.20,116.58 L49.00,116.58Z" fill="#33395e"/>
<path d="M66.60,149.38 L68.20,152.58 L65.00,152.58Z" fill="#33395e"/>
<path d="M83.00,150.38 L84.60,153.58 L81.40,153.58Z" fill="#33395e"/>
<path d="M92.90,146.98 L94.50,150.18 L91.30,150.18Z" fill="#33395e"/>
<path d="M107.20,131.48 L108.80,134.68 L105.60,134.68Z" fill="#33395e"/>
<path d="M116.10,106.98 L117.70,110.18 L114.50,110.18Z" fill="#33395e"/>
<path d="M132.50,82.58 L134.10,85.78 L130.90,85.78Z" fill="#33395e"/>
<path d="M139.70,88.08 L141.30,91.28 L138.10,91.28Z" fill="#33395e"/>
<path d="M156.30,77.88 L157.90,81.08 L154.70,81.08Z" fill="#33395e"/>
<path d="M165.60,70.98 L167.20,74.18 L164.00,74.18Z" fill="#33395e"/>
<polyline points="41.00,131.50 50.60,117.00 66.60,151.30 83.00,152.30 99.60,150.50 116.40,146.10 132.60,142.10 140.00,142.50 156.10,143.40 165.60,144.80 182.00,151.20 189.20,152.00 200.70,150.80 217.20,149.30 231.50,149.30" fill="none" stroke="#33395e" stroke-width="0.9" stroke-linejoin="round" />
<path d="M41.00,129.70 L42.50,132.70 L39.50,132.70Z" fill="#33395e"/>
<path d="M50.60,115.20 L52.10,118.20 L49.10,118.20Z" fill="#33395e"/>
<path d="M66.60,149.50 L68.10,152.50 L65.10,152.50Z" fill="#33395e"/>
<path d="M83.00,150.50 L84.50,153.50 L81.50,153.50Z" fill="#33395e"/>
<path d="M99.60,148.70 L101.10,151.70 L98.10,151.70Z" fill="#33395e"/>
<path d="M116.40,144.30 L117.90,147.30 L114.90,147.30Z" fill="#33395e"/>
<path d="M132.60,140.30 L134.10,143.30 L131.10,143.30Z" fill="#33395e"/>
<path d="M140.00,140.70 L141.50,143.70 L138.50,143.70Z" fill="#33395e"/>
<path d="M156.10,141.60 L157.60,144.60 L154.60,144.60Z" fill="#33395e"/>
<path d="M165.60,143.00 L167.10,146.00 L164.10,146.00Z" fill="#33395e"/>
<path d="M182.00,149.40 L183.50,152.40 L180.50,152.40Z" fill="#33395e"/>
<path d="M189.20,150.20 L190.70,153.20 L187.70,153.20Z" fill="#33395e"/>
<path d="M200.70,149.00 L202.20,152.00 L199.20,152.00Z" fill="#33395e"/>
<path d="M217.20,147.50 L218.70,150.50 L215.70,150.50Z" fill="#33395e"/>
<path d="M231.50,147.50 L233.00,150.50 L230.00,150.50Z" fill="#33395e"/>
<polyline points="99.60,151.50 116.40,148.80 132.60,144.80 140.00,144.00" fill="none" stroke="#33395e" stroke-width="0.8" stroke-linejoin="round" />
<path d="M99.60,149.94 L100.90,152.54 L98.30,152.54Z" fill="#33395e"/>
<path d="M116.40,147.24 L117.70,149.84 L115.10,149.84Z" fill="#33395e"/>
<path d="M132.60,143.24 L133.90,145.84 L131.30,145.84Z" fill="#33395e"/>
<path d="M140.00,142.44 L141.30,145.04 L138.70,145.04Z" fill="#33395e"/>
<polygon points="41.00,132.20 51.40,117.80 66.60,148.00 83.00,150.44 90.20,149.27 106.60,148.80 116.40,149.30 132.60,150.30 140.00,150.57 156.10,150.00 165.60,150.30 182.00,151.18 189.20,151.65 200.70,151.15 217.20,149.10 231.50,149.10 231.50,151.90 217.20,151.90 200.70,152.45 189.20,152.95 182.00,152.74 165.60,152.90 156.10,152.60 140.00,152.91 132.60,152.90 116.40,151.90 106.60,151.40 90.20,151.61 83.00,152.52 66.60,153.00 51.40,127.00 41.00,138.80" fill="#8cc46c" stroke="none"/>
<rect x="217.2" y="149.1" width="14.3" height="2.8" fill="#cfdcca"/>
<polyline points="41.00,132.20 51.40,117.80 66.60,148.00 83.00,150.44 90.20,149.27 106.60,148.80 116.40,149.30 132.60,150.30 140.00,150.57 156.10,150.00 165.60,150.30 182.00,151.18 189.20,151.65 200.70,151.15 217.20,149.10 231.50,149.10" fill="none" stroke="#6db14d" stroke-width="1.0" stroke-linejoin="round" />
<rect x="39.80" y="131.00" width="2.40" height="2.40" fill="#559a3a"/>
<rect x="50.20" y="116.60" width="2.40" height="2.40" fill="#559a3a"/>
<rect x="65.40" y="146.80" width="2.40" height="2.40" fill="#559a3a"/>
<rect x="81.80" y="149.24" width="2.40" height="2.40" fill="#559a3a"/>
<rect x="89.00" y="148.07" width="2.40" height="2.40" fill="#559a3a"/>
<rect x="105.40" y="147.60" width="2.40" height="2.40" fill="#559a3a"/>
<rect x="115.20" y="148.10" width="2.40" height="2.40" fill="#559a3a"/>
<rect x="131.40" y="149.10" width="2.40" height="2.40" fill="#559a3a"/>
<rect x="138.80" y="149.37" width="2.40" height="2.40" fill="#559a3a"/>
<rect x="154.90" y="148.80" width="2.40" height="2.40" fill="#559a3a"/>
<rect x="164.40" y="149.10" width="2.40" height="2.40" fill="#559a3a"/>
<rect x="180.80" y="149.98" width="2.40" height="2.40" fill="#559a3a"/>
<rect x="188.00" y="150.45" width="2.40" height="2.40" fill="#559a3a"/>
<rect x="199.50" y="149.95" width="2.40" height="2.40" fill="#559a3a"/>
<rect x="216.00" y="147.90" width="2.40" height="2.40" fill="#559a3a"/>
<rect x="230.30" y="147.90" width="2.40" height="2.40" fill="#559a3a"/>
<polyline points="41.00,134.50 51.40,121.00 66.60,150.00 83.00,151.16 90.20,150.08 106.60,149.70 116.40,150.20 132.60,151.20 140.00,151.38 156.10,150.90 165.60,151.20 182.00,151.72 189.20,152.10 200.70,151.60 217.20,149.10 231.50,149.10" fill="none" stroke="#6db14d" stroke-width="1.0" stroke-linejoin="round" />
<rect x="39.80" y="133.30" width="2.40" height="2.40" fill="#559a3a"/>
<rect x="50.20" y="119.80" width="2.40" height="2.40" fill="#559a3a"/>
<rect x="65.40" y="148.80" width="2.40" height="2.40" fill="#559a3a"/>
<rect x="81.80" y="149.96" width="2.40" height="2.40" fill="#559a3a"/>
<rect x="89.00" y="148.88" width="2.40" height="2.40" fill="#559a3a"/>
<rect x="105.40" y="148.50" width="2.40" height="2.40" fill="#559a3a"/>
<rect x="115.20" y="149.00" width="2.40" height="2.40" fill="#559a3a"/>
<rect x="131.40" y="150.00" width="2.40" height="2.40" fill="#559a3a"/>
<rect x="138.80" y="150.18" width="2.40" height="2.40" fill="#559a3a"/>
<rect x="154.90" y="149.70" width="2.40" height="2.40" fill="#559a3a"/>
<rect x="164.40" y="150.00" width="2.40" height="2.40" fill="#559a3a"/>
<rect x="180.80" y="150.52" width="2.40" height="2.40" fill="#559a3a"/>
<rect x="188.00" y="150.90" width="2.40" height="2.40" fill="#559a3a"/>
<rect x="199.50" y="150.40" width="2.40" height="2.40" fill="#559a3a"/>
<rect x="216.00" y="147.90" width="2.40" height="2.40" fill="#559a3a"/>
<rect x="230.30" y="147.90" width="2.40" height="2.40" fill="#559a3a"/>
<polyline points="41.00,137.00 51.40,124.00 66.60,151.50 83.00,151.88 90.20,150.89 106.60,150.60 116.40,151.10 132.60,152.10 140.00,152.19 156.10,151.80 165.60,152.10 182.00,152.26 189.20,152.55 200.70,152.05 217.20,151.90 231.50,151.90" fill="none" stroke="#6db14d" stroke-width="1.0" stroke-linejoin="round" />
<rect x="39.80" y="135.80" width="2.40" height="2.40" fill="#559a3a"/>
<rect x="50.20" y="122.80" width="2.40" height="2.40" fill="#559a3a"/>
<rect x="65.40" y="150.30" width="2.40" height="2.40" fill="#559a3a"/>
<rect x="81.80" y="150.68" width="2.40" height="2.40" fill="#559a3a"/>
<rect x="89.00" y="149.69" width="2.40" height="2.40" fill="#559a3a"/>
<rect x="105.40" y="149.40" width="2.40" height="2.40" fill="#559a3a"/>
<rect x="115.20" y="149.90" width="2.40" height="2.40" fill="#559a3a"/>
<rect x="131.40" y="150.90" width="2.40" height="2.40" fill="#559a3a"/>
<rect x="138.80" y="150.99" width="2.40" height="2.40" fill="#559a3a"/>
<rect x="154.90" y="150.60" width="2.40" height="2.40" fill="#559a3a"/>
<rect x="164.40" y="150.90" width="2.40" height="2.40" fill="#559a3a"/>
<rect x="180.80" y="151.06" width="2.40" height="2.40" fill="#559a3a"/>
<rect x="188.00" y="151.35" width="2.40" height="2.40" fill="#559a3a"/>
<rect x="199.50" y="150.85" width="2.40" height="2.40" fill="#559a3a"/>
<rect x="216.00" y="150.70" width="2.40" height="2.40" fill="#559a3a"/>
<rect x="230.30" y="150.70" width="2.40" height="2.40" fill="#559a3a"/>
<polyline points="41.00,138.80 51.40,127.00 66.60,153.00 83.00,152.52 90.20,151.61 106.60,151.40 116.40,151.90 132.60,152.90 140.00,152.91 156.10,152.60 165.60,152.90 182.00,152.74 189.20,152.95 200.70,152.45 217.20,151.90 231.50,151.90" fill="none" stroke="#6db14d" stroke-width="1.0" stroke-linejoin="round" />
<rect x="39.80" y="137.60" width="2.40" height="2.40" fill="#559a3a"/>
<rect x="50.20" y="125.80" width="2.40" height="2.40" fill="#559a3a"/>
<rect x="65.40" y="151.80" width="2.40" height="2.40" fill="#559a3a"/>
<rect x="81.80" y="151.32" width="2.40" height="2.40" fill="#559a3a"/>
<rect x="89.00" y="150.41" width="2.40" height="2.40" fill="#559a3a"/>
<rect x="105.40" y="150.20" width="2.40" height="2.40" fill="#559a3a"/>
<rect x="115.20" y="150.70" width="2.40" height="2.40" fill="#559a3a"/>
<rect x="131.40" y="151.70" width="2.40" height="2.40" fill="#559a3a"/>
<rect x="138.80" y="151.71" width="2.40" height="2.40" fill="#559a3a"/>
<rect x="154.90" y="151.40" width="2.40" height="2.40" fill="#559a3a"/>
<rect x="164.40" y="151.70" width="2.40" height="2.40" fill="#559a3a"/>
<rect x="180.80" y="151.54" width="2.40" height="2.40" fill="#559a3a"/>
<rect x="188.00" y="151.75" width="2.40" height="2.40" fill="#559a3a"/>
<rect x="199.50" y="151.25" width="2.40" height="2.40" fill="#559a3a"/>
<rect x="216.00" y="150.70" width="2.40" height="2.40" fill="#559a3a"/>
<rect x="230.30" y="150.70" width="2.40" height="2.40" fill="#559a3a"/>
<polyline points="200.70,150.90 217.20,149.20 231.50,149.20" fill="none" stroke="#44566a" stroke-width="0.8" stroke-linejoin="round" />
<path d="M200.70,149.10 L202.20,152.10 L199.20,152.10Z" fill="#44566a"/>
<path d="M217.20,147.40 L218.70,150.40 L215.70,150.40Z" fill="#44566a"/>
<path d="M231.50,147.40 L233.00,150.40 L230.00,150.40Z" fill="#44566a"/>
<rect x="81.60" y="151.90" width="2.80" height="2.80" fill="#87142f"/>
<rect x="105.20" y="150.80" width="2.80" height="2.80" fill="#87142f"/>
<rect x="131.20" y="150.80" width="2.80" height="2.80" fill="#87142f"/>
<rect x="180.60" y="150.00" width="2.80" height="2.80" fill="#87142f"/>
<polyline points="83.00,153.80 90.20,136.80 106.80,71.10" fill="none" stroke="#87142f" stroke-width="1.6" stroke-linejoin="round" />
<path d="M83.00,155.96 L84.80,152.36 L81.20,152.36Z" fill="#87142f"/>
<path d="M90.20,138.96 L92.00,135.36 L88.40,135.36Z" fill="#87142f"/>
<path d="M106.80,73.26 L108.60,69.66 L105.00,69.66Z" fill="#87142f"/>
<polyline points="106.60,152.20 116.10,130.00" fill="none" stroke="#87142f" stroke-width="1.3" stroke-linejoin="round" />
<path d="M106.60,154.36 L108.40,150.76 L104.80,150.76Z" fill="#87142f"/>
<path d="M116.10,132.16 L117.90,128.56 L114.30,128.56Z" fill="#87142f"/>
<polyline points="132.60,152.20 139.30,146.80 156.60,113.00 165.60,73.30" fill="none" stroke="#87142f" stroke-width="1.6" stroke-linejoin="round" />
<path d="M132.60,154.36 L134.40,150.76 L130.80,150.76Z" fill="#87142f"/>
<path d="M139.30,148.96 L141.10,145.36 L137.50,145.36Z" fill="#87142f"/>
<path d="M156.60,115.16 L158.40,111.56 L154.80,111.56Z" fill="#87142f"/>
<path d="M165.60,75.46 L167.40,71.86 L163.80,71.86Z" fill="#87142f"/>
<polyline points="165.60,144.80 182.00,75.50" fill="none" stroke="#87142f" stroke-width="0.9" stroke-linejoin="round" />
<path d="M165.60,146.72 L167.20,143.52 L164.00,143.52Z" fill="#87142f"/>
<path d="M182.00,77.42 L183.60,74.22 L180.40,74.22Z" fill="#87142f"/>
<polyline points="182.00,151.20 189.20,131.00 231.40,91.50" fill="none" stroke="#87142f" stroke-width="0.9" stroke-linejoin="round" />
<path d="M182.00,153.00 L183.50,150.00 L180.50,150.00Z" fill="#87142f"/>
<path d="M189.20,132.80 L190.70,129.80 L187.70,129.80Z" fill="#87142f"/>
<path d="M231.40,93.30 L232.90,90.30 L229.90,90.30Z" fill="#87142f"/>
<line x1="84.50" y1="127.30" x2="84.50" y2="132.30" stroke="#111" stroke-width="1.1"/>
<path d="M82.50,131.30 L86.50,131.30 L84.50,134.80Z" fill="#111"/>
<line x1="109.30" y1="127.30" x2="109.30" y2="132.30" stroke="#111" stroke-width="1.1"/>
<path d="M107.30,131.30 L111.30,131.30 L109.30,134.80Z" fill="#111"/>
<line x1="135.90" y1="127.30" x2="135.90" y2="132.30" stroke="#111" stroke-width="1.1"/>
<path d="M133.90,131.30 L137.90,131.30 L135.90,134.80Z" fill="#111"/>
<line x1="160.10" y1="127.30" x2="160.10" y2="132.30" stroke="#111" stroke-width="1.1"/>
<path d="M158.10,131.30 L162.10,131.30 L160.10,134.80Z" fill="#111"/>
<line x1="184.50" y1="127.30" x2="184.50" y2="132.30" stroke="#111" stroke-width="1.1"/>
<path d="M182.50,131.30 L186.50,131.30 L184.50,134.80Z" fill="#111"/>
<polyline points="296.00,136.80 304.60,111.00 321.00,143.80 336.80,152.00 343.60,148.50 360.00,152.50 369.60,151.00 385.70,150.50 392.60,151.50 408.00,151.00 417.90,150.50 434.40,151.00" fill="none" stroke="#33395e" stroke-width="0.9" stroke-linejoin="round" />
<path d="M296.00,135.00 L297.50,138.00 L294.50,138.00Z" fill="#33395e"/>
<path d="M304.60,109.20 L306.10,112.20 L303.10,112.20Z" fill="#33395e"/>
<path d="M321.00,142.00 L322.50,145.00 L319.50,145.00Z" fill="#33395e"/>
<path d="M336.80,150.20 L338.30,153.20 L335.30,153.20Z" fill="#33395e"/>
<path d="M343.60,146.70 L345.10,149.70 L342.10,149.70Z" fill="#33395e"/>
<path d="M360.00,150.70 L361.50,153.70 L358.50,153.70Z" fill="#33395e"/>
<path d="M369.60,149.20 L371.10,152.20 L368.10,152.20Z" fill="#33395e"/>
<path d="M385.70,148.70 L387.20,151.70 L384.20,151.70Z" fill="#33395e"/>
<path d="M392.60,149.70 L394.10,152.70 L391.10,152.70Z" fill="#33395e"/>
<path d="M408.00,149.20 L409.50,152.20 L406.50,152.20Z" fill="#33395e"/>
<path d="M417.90,148.70 L419.40,151.70 L416.40,151.70Z" fill="#33395e"/>
<path d="M434.40,149.20 L435.90,152.20 L432.90,152.20Z" fill="#33395e"/>
<polygon points="296.00,127.80 304.60,109.00 320.50,148.20 336.80,150.50 344.20,145.50 360.00,150.00 369.60,150.50 385.70,149.50 392.60,151.50 408.00,150.00 417.90,149.50 434.40,150.50 440.90,152.00 451.80,151.00 468.80,147.60 482.30,147.60 482.30,151.60 468.80,151.60 451.80,152.20 440.90,153.20 434.40,151.40 417.90,151.00 408.00,151.50 392.60,153.30 385.70,151.00 369.60,152.00 360.00,151.80 344.20,149.10 336.80,152.30 320.50,154.00 304.60,113.00 296.00,134.30" fill="#8cc46c" stroke="none"/>
<rect x="468.8" y="147.6" width="13.5" height="4.0" fill="#d3e2cf"/>
<polyline points="296.00,127.80 304.60,109.00 320.50,148.20 336.80,150.50 344.20,145.50 360.00,150.00 369.60,150.50 385.70,149.50 392.60,151.50 408.00,150.00 417.90,149.50 434.40,150.50 440.90,152.00 451.80,151.00 468.80,147.60 482.30,147.60" fill="none" stroke="#6db14d" stroke-width="1.0" stroke-linejoin="round" />
<rect x="294.80" y="126.60" width="2.40" height="2.40" fill="#559a3a"/>
<rect x="303.40" y="107.80" width="2.40" height="2.40" fill="#559a3a"/>
<rect x="319.30" y="147.00" width="2.40" height="2.40" fill="#559a3a"/>
<rect x="335.60" y="149.30" width="2.40" height="2.40" fill="#559a3a"/>
<rect x="343.00" y="144.30" width="2.40" height="2.40" fill="#559a3a"/>
<rect x="358.80" y="148.80" width="2.40" height="2.40" fill="#559a3a"/>
<rect x="368.40" y="149.30" width="2.40" height="2.40" fill="#559a3a"/>
<rect x="384.50" y="148.30" width="2.40" height="2.40" fill="#559a3a"/>
<rect x="391.40" y="150.30" width="2.40" height="2.40" fill="#559a3a"/>
<rect x="406.80" y="148.80" width="2.40" height="2.40" fill="#559a3a"/>
<rect x="416.70" y="148.30" width="2.40" height="2.40" fill="#559a3a"/>
<rect x="433.20" y="149.30" width="2.40" height="2.40" fill="#559a3a"/>
<rect x="439.70" y="150.80" width="2.40" height="2.40" fill="#559a3a"/>
<rect x="450.60" y="149.80" width="2.40" height="2.40" fill="#559a3a"/>
<rect x="467.60" y="146.40" width="2.40" height="2.40" fill="#559a3a"/>
<rect x="481.10" y="146.40" width="2.40" height="2.40" fill="#559a3a"/>
<polyline points="296.00,130.00 304.60,110.40 320.50,150.70 336.80,151.10 344.20,146.70 360.00,150.60 369.60,151.00 385.70,150.00 392.60,152.10 408.00,150.50 417.90,150.00 434.40,150.80 440.90,152.40 451.80,151.40 468.80,147.60 482.30,147.60" fill="none" stroke="#6db14d" stroke-width="1.0" stroke-linejoin="round" />
<rect x="294.80" y="128.80" width="2.40" height="2.40" fill="#559a3a"/>
<rect x="303.40" y="109.20" width="2.40" height="2.40" fill="#559a3a"/>
<rect x="319.30" y="149.50" width="2.40" height="2.40" fill="#559a3a"/>
<rect x="335.60" y="149.90" width="2.40" height="2.40" fill="#559a3a"/>
<rect x="343.00" y="145.50" width="2.40" height="2.40" fill="#559a3a"/>
<rect x="358.80" y="149.40" width="2.40" height="2.40" fill="#559a3a"/>
<rect x="368.40" y="149.80" width="2.40" height="2.40" fill="#559a3a"/>
<rect x="384.50" y="148.80" width="2.40" height="2.40" fill="#559a3a"/>
<rect x="391.40" y="150.90" width="2.40" height="2.40" fill="#559a3a"/>
<rect x="406.80" y="149.30" width="2.40" height="2.40" fill="#559a3a"/>
<rect x="416.70" y="148.80" width="2.40" height="2.40" fill="#559a3a"/>
<rect x="433.20" y="149.60" width="2.40" height="2.40" fill="#559a3a"/>
<rect x="439.70" y="151.20" width="2.40" height="2.40" fill="#559a3a"/>
<rect x="450.60" y="150.20" width="2.40" height="2.40" fill="#559a3a"/>
<rect x="467.60" y="146.40" width="2.40" height="2.40" fill="#559a3a"/>
<rect x="481.10" y="146.40" width="2.40" height="2.40" fill="#559a3a"/>
<polyline points="296.00,132.30 304.60,111.80 320.50,152.70 336.80,151.70 344.20,147.90 360.00,151.20 369.60,151.50 385.70,150.50 392.60,152.70 408.00,151.00 417.90,150.50 434.40,151.10 440.90,152.80 451.80,151.80 468.80,151.60 482.30,151.60" fill="none" stroke="#6db14d" stroke-width="1.0" stroke-linejoin="round" />
<rect x="294.80" y="131.10" width="2.40" height="2.40" fill="#559a3a"/>
<rect x="303.40" y="110.60" width="2.40" height="2.40" fill="#559a3a"/>
<rect x="319.30" y="151.50" width="2.40" height="2.40" fill="#559a3a"/>
<rect x="335.60" y="150.50" width="2.40" height="2.40" fill="#559a3a"/>
<rect x="343.00" y="146.70" width="2.40" height="2.40" fill="#559a3a"/>
<rect x="358.80" y="150.00" width="2.40" height="2.40" fill="#559a3a"/>
<rect x="368.40" y="150.30" width="2.40" height="2.40" fill="#559a3a"/>
<rect x="384.50" y="149.30" width="2.40" height="2.40" fill="#559a3a"/>
<rect x="391.40" y="151.50" width="2.40" height="2.40" fill="#559a3a"/>
<rect x="406.80" y="149.80" width="2.40" height="2.40" fill="#559a3a"/>
<rect x="416.70" y="149.30" width="2.40" height="2.40" fill="#559a3a"/>
<rect x="433.20" y="149.90" width="2.40" height="2.40" fill="#559a3a"/>
<rect x="439.70" y="151.60" width="2.40" height="2.40" fill="#559a3a"/>
<rect x="450.60" y="150.60" width="2.40" height="2.40" fill="#559a3a"/>
<rect x="467.60" y="150.40" width="2.40" height="2.40" fill="#559a3a"/>
<rect x="481.10" y="150.40" width="2.40" height="2.40" fill="#559a3a"/>
<polyline points="296.00,134.30 304.60,113.00 320.50,154.00 336.80,152.30 344.20,149.10 360.00,151.80 369.60,152.00 385.70,151.00 392.60,153.30 408.00,151.50 417.90,151.00 434.40,151.40 440.90,153.20 451.80,152.20 468.80,151.60 482.30,151.60" fill="none" stroke="#6db14d" stroke-width="1.0" stroke-linejoin="round" />
<rect x="294.80" y="133.10" width="2.40" height="2.40" fill="#559a3a"/>
<rect x="303.40" y="111.80" width="2.40" height="2.40" fill="#559a3a"/>
<rect x="319.30" y="152.80" width="2.40" height="2.40" fill="#559a3a"/>
<rect x="335.60" y="151.10" width="2.40" height="2.40" fill="#559a3a"/>
<rect x="343.00" y="147.90" width="2.40" height="2.40" fill="#559a3a"/>
<rect x="358.80" y="150.60" width="2.40" height="2.40" fill="#559a3a"/>
<rect x="368.40" y="150.80" width="2.40" height="2.40" fill="#559a3a"/>
<rect x="384.50" y="149.80" width="2.40" height="2.40" fill="#559a3a"/>
<rect x="391.40" y="152.10" width="2.40" height="2.40" fill="#559a3a"/>
<rect x="406.80" y="150.30" width="2.40" height="2.40" fill="#559a3a"/>
<rect x="416.70" y="149.80" width="2.40" height="2.40" fill="#559a3a"/>
<rect x="433.20" y="150.20" width="2.40" height="2.40" fill="#559a3a"/>
<rect x="439.70" y="152.00" width="2.40" height="2.40" fill="#559a3a"/>
<rect x="450.60" y="151.00" width="2.40" height="2.40" fill="#559a3a"/>
<rect x="467.60" y="150.40" width="2.40" height="2.40" fill="#559a3a"/>
<rect x="481.10" y="150.40" width="2.40" height="2.40" fill="#559a3a"/>
<rect x="335.40" y="151.20" width="2.80" height="2.80" fill="#87142f"/>
<rect x="358.60" y="151.80" width="2.80" height="2.80" fill="#87142f"/>
<rect x="384.10" y="148.40" width="2.80" height="2.80" fill="#87142f"/>
<rect x="406.60" y="149.60" width="2.80" height="2.80" fill="#87142f"/>
<rect x="433.00" y="149.50" width="2.80" height="2.80" fill="#87142f"/>
<polyline points="336.80,152.60 343.00,137.50 359.90,68.20" fill="none" stroke="#87142f" stroke-width="1.6" stroke-linejoin="round" />
<path d="M336.80,154.76 L338.60,151.16 L335.00,151.16Z" fill="#87142f"/>
<path d="M343.00,139.66 L344.80,136.06 L341.20,136.06Z" fill="#87142f"/>
<path d="M359.90,70.36 L361.70,66.76 L358.10,66.76Z" fill="#87142f"/>
<polyline points="360.00,153.40 369.60,129.80" fill="none" stroke="#87142f" stroke-width="1.3" stroke-linejoin="round" />
<path d="M360.00,155.56 L361.80,151.96 L358.20,151.96Z" fill="#87142f"/>
<path d="M369.60,131.96 L371.40,128.36 L367.80,128.36Z" fill="#87142f"/>
<polyline points="385.50,149.60 392.60,146.20 408.60,111.80 417.90,70.60" fill="none" stroke="#87142f" stroke-width="1.6" stroke-linejoin="round" />
<path d="M385.50,151.76 L387.30,148.16 L383.70,148.16Z" fill="#87142f"/>
<path d="M392.60,148.36 L394.40,144.76 L390.80,144.76Z" fill="#87142f"/>
<path d="M408.60,113.96 L410.40,110.36 L406.80,110.36Z" fill="#87142f"/>
<path d="M417.90,72.76 L419.70,69.16 L416.10,69.16Z" fill="#87142f"/>
<polyline points="408.00,151.00 417.90,145.70 433.90,72.80" fill="none" stroke="#87142f" stroke-width="0.9" stroke-linejoin="round" />
<path d="M408.00,152.80 L409.50,149.80 L406.50,149.80Z" fill="#87142f"/>
<path d="M417.90,147.50 L419.40,144.50 L416.40,144.50Z" fill="#87142f"/>
<path d="M433.90,74.60 L435.40,71.60 L432.40,71.60Z" fill="#87142f"/>
<polyline points="434.40,150.90 440.90,129.70 482.30,89.80" fill="none" stroke="#87142f" stroke-width="0.9" stroke-linejoin="round" />
<path d="M434.40,152.70 L435.90,149.70 L432.90,149.70Z" fill="#87142f"/>
<path d="M440.90,131.50 L442.40,128.50 L439.40,128.50Z" fill="#87142f"/>
<path d="M482.30,91.60 L483.80,88.60 L480.80,88.60Z" fill="#87142f"/>
<line x1="335.50" y1="127.70" x2="335.50" y2="132.50" stroke="#111" stroke-width="1.1"/>
<path d="M333.50,131.50 L337.50,131.50 L335.50,135.00Z" fill="#111"/>
<line x1="360.30" y1="127.70" x2="360.30" y2="132.50" stroke="#111" stroke-width="1.1"/>
<path d="M358.30,131.50 L362.30,131.50 L360.30,135.00Z" fill="#111"/>
<line x1="385.70" y1="127.70" x2="385.70" y2="132.50" stroke="#111" stroke-width="1.1"/>
<path d="M383.70,131.50 L387.70,131.50 L385.70,135.00Z" fill="#111"/>
<line x1="409.60" y1="127.70" x2="409.60" y2="132.50" stroke="#111" stroke-width="1.1"/>
<path d="M407.60,131.50 L411.60,131.50 L409.60,135.00Z" fill="#111"/>
<line x1="434.20" y1="127.70" x2="434.20" y2="132.50" stroke="#111" stroke-width="1.1"/>
<path d="M432.20,131.50 L436.20,131.50 L434.20,135.00Z" fill="#111"/>
<polyline points="41.70,322.70 54.20,322.70 72.10,317.20 90.80,323.30 108.60,323.70 126.90,323.70 144.90,320.90" fill="none" stroke="#2a3f6e" stroke-width="1.0" stroke-linejoin="round" />
<rect x="40.40" y="321.40" width="2.60" height="2.60" fill="#2a3f6e"/>
<rect x="52.90" y="321.40" width="2.60" height="2.60" fill="#2a3f6e"/>
<rect x="70.80" y="315.90" width="2.60" height="2.60" fill="#2a3f6e"/>
<rect x="89.50" y="322.00" width="2.60" height="2.60" fill="#2a3f6e"/>
<rect x="107.30" y="322.40" width="2.60" height="2.60" fill="#2a3f6e"/>
<rect x="125.60" y="322.40" width="2.60" height="2.60" fill="#2a3f6e"/>
<rect x="143.60" y="319.60" width="2.60" height="2.60" fill="#2a3f6e"/>
<polyline points="41.70,322.70 54.20,325.80 72.10,321.50 90.80,323.30 108.60,327.50 126.90,328.10" fill="none" stroke="#3a5a8a" stroke-width="1.0" stroke-linejoin="round" />
<rect x="40.40" y="321.40" width="2.60" height="2.60" fill="#3a5a8a"/>
<rect x="52.90" y="324.50" width="2.60" height="2.60" fill="#3a5a8a"/>
<rect x="70.80" y="320.20" width="2.60" height="2.60" fill="#3a5a8a"/>
<rect x="89.50" y="322.00" width="2.60" height="2.60" fill="#3a5a8a"/>
<rect x="107.30" y="326.20" width="2.60" height="2.60" fill="#3a5a8a"/>
<rect x="125.60" y="326.80" width="2.60" height="2.60" fill="#3a5a8a"/>
<polyline points="41.70,323.00 54.20,324.00 72.10,319.00 90.80,324.00 108.60,325.00 126.90,325.00 144.90,324.80" fill="none" stroke="#1e3560" stroke-width="1.0" stroke-linejoin="round" />
<rect x="40.40" y="321.70" width="2.60" height="2.60" fill="#1e3560"/>
<rect x="52.90" y="322.70" width="2.60" height="2.60" fill="#1e3560"/>
<rect x="70.80" y="317.70" width="2.60" height="2.60" fill="#1e3560"/>
<rect x="89.50" y="322.70" width="2.60" height="2.60" fill="#1e3560"/>
<rect x="107.30" y="323.70" width="2.60" height="2.60" fill="#1e3560"/>
<rect x="125.60" y="323.70" width="2.60" height="2.60" fill="#1e3560"/>
<rect x="143.60" y="323.50" width="2.60" height="2.60" fill="#1e3560"/>
<polyline points="41.70,319.60 54.20,314.10 72.40,276.90 90.90,248.70" fill="none" stroke="#6aaa3a" stroke-width="0.9" stroke-linejoin="round" />
<rect x="40.50" y="318.40" width="2.40" height="2.40" fill="#6aaa3a"/>
<rect x="53.00" y="312.90" width="2.40" height="2.40" fill="#6aaa3a"/>
<rect x="71.20" y="275.70" width="2.40" height="2.40" fill="#6aaa3a"/>
<rect x="89.70" y="247.50" width="2.40" height="2.40" fill="#6aaa3a"/>
<polyline points="41.70,319.60 54.20,315.70 72.10,310.80 90.80,293.60 108.60,271.10 126.80,249.00" fill="none" stroke="#a8203a" stroke-width="0.9" stroke-linejoin="round" />
<path d="M41.70,321.16 L43.00,318.56 L40.40,318.56Z" fill="#a8203a"/>
<path d="M54.20,317.26 L55.50,314.66 L52.90,314.66Z" fill="#a8203a"/>
<path d="M72.10,312.36 L73.40,309.76 L70.80,309.76Z" fill="#a8203a"/>
<path d="M90.80,295.16 L92.10,292.56 L89.50,292.56Z" fill="#a8203a"/>
<path d="M108.60,272.66 L109.90,270.06 L107.30,270.06Z" fill="#a8203a"/>
<path d="M126.80,250.56 L128.10,247.96 L125.50,247.96Z" fill="#a8203a"/>
<polyline points="294.00,326.00 307.10,327.10 324.40,324.50 342.50,323.60 360.00,324.00 377.40,325.00 395.40,326.00" fill="none" stroke="#4a6a9a" stroke-width="1.0" stroke-linejoin="round" />
<rect x="292.70" y="324.70" width="2.60" height="2.60" fill="#4a6a9a"/>
<rect x="305.80" y="325.80" width="2.60" height="2.60" fill="#4a6a9a"/>
<rect x="323.10" y="323.20" width="2.60" height="2.60" fill="#4a6a9a"/>
<rect x="341.20" y="322.30" width="2.60" height="2.60" fill="#4a6a9a"/>
<rect x="358.70" y="322.70" width="2.60" height="2.60" fill="#4a6a9a"/>
<rect x="376.10" y="323.70" width="2.60" height="2.60" fill="#4a6a9a"/>
<rect x="394.10" y="324.70" width="2.60" height="2.60" fill="#4a6a9a"/>
<polyline points="294.00,322.50 307.10,323.00 324.40,322.50 342.50,323.00 360.00,323.50 377.40,324.00 395.40,323.00" fill="none" stroke="#1e3560" stroke-width="1.0" stroke-linejoin="round" />
<rect x="292.70" y="321.20" width="2.60" height="2.60" fill="#1e3560"/>
<rect x="305.80" y="321.70" width="2.60" height="2.60" fill="#1e3560"/>
<rect x="323.10" y="321.20" width="2.60" height="2.60" fill="#1e3560"/>
<rect x="341.20" y="321.70" width="2.60" height="2.60" fill="#1e3560"/>
<rect x="358.70" y="322.20" width="2.60" height="2.60" fill="#1e3560"/>
<rect x="376.10" y="322.70" width="2.60" height="2.60" fill="#1e3560"/>
<rect x="394.10" y="321.70" width="2.60" height="2.60" fill="#1e3560"/>
<polyline points="294.00,321.00 307.10,321.50 324.40,319.50 342.50,320.50 360.00,321.50 377.40,322.50 395.40,321.00" fill="none" stroke="#2f7a3a" stroke-width="1.1" stroke-linejoin="round" />
<rect x="292.70" y="319.70" width="2.60" height="2.60" fill="#2f7a3a"/>
<rect x="305.80" y="320.20" width="2.60" height="2.60" fill="#2f7a3a"/>
<rect x="323.10" y="318.20" width="2.60" height="2.60" fill="#2f7a3a"/>
<rect x="341.20" y="319.20" width="2.60" height="2.60" fill="#2f7a3a"/>
<rect x="358.70" y="320.20" width="2.60" height="2.60" fill="#2f7a3a"/>
<rect x="376.10" y="321.20" width="2.60" height="2.60" fill="#2f7a3a"/>
<rect x="394.10" y="319.70" width="2.60" height="2.60" fill="#2f7a3a"/>
<polyline points="294.00,320.50 307.10,320.80 324.40,318.50 342.50,320.00 360.00,321.00 377.40,321.50 395.40,324.00" fill="none" stroke="#4a9a3a" stroke-width="1.1" stroke-linejoin="round" />
<rect x="292.70" y="319.20" width="2.60" height="2.60" fill="#4a9a3a"/>
<rect x="305.80" y="319.50" width="2.60" height="2.60" fill="#4a9a3a"/>
<rect x="323.10" y="317.20" width="2.60" height="2.60" fill="#4a9a3a"/>
<rect x="341.20" y="318.70" width="2.60" height="2.60" fill="#4a9a3a"/>
<rect x="358.70" y="319.70" width="2.60" height="2.60" fill="#4a9a3a"/>
<rect x="376.10" y="320.20" width="2.60" height="2.60" fill="#4a9a3a"/>
<rect x="394.10" y="322.70" width="2.60" height="2.60" fill="#4a9a3a"/>
<polyline points="294.00,321.50 307.10,322.00 324.40,318.50 342.50,321.00 360.00,322.50 377.40,323.50 395.40,326.80" fill="none" stroke="#2c6a3a" stroke-width="1.0" stroke-linejoin="round" />
<rect x="292.70" y="320.20" width="2.60" height="2.60" fill="#2c6a3a"/>
<rect x="305.80" y="320.70" width="2.60" height="2.60" fill="#2c6a3a"/>
<rect x="323.10" y="317.20" width="2.60" height="2.60" fill="#2c6a3a"/>
<rect x="341.20" y="319.70" width="2.60" height="2.60" fill="#2c6a3a"/>
<rect x="358.70" y="321.20" width="2.60" height="2.60" fill="#2c6a3a"/>
<rect x="376.10" y="322.20" width="2.60" height="2.60" fill="#2c6a3a"/>
<rect x="394.10" y="325.50" width="2.60" height="2.60" fill="#2c6a3a"/>
<polyline points="294.00,319.60 307.10,320.20 324.40,317.30 342.50,319.00 360.00,320.00 377.40,311.50 395.40,297.40" fill="none" stroke="#6aaa3a" stroke-width="1.0" stroke-linejoin="round" />
<rect x="292.70" y="318.30" width="2.60" height="2.60" fill="#6aaa3a"/>
<rect x="305.80" y="318.90" width="2.60" height="2.60" fill="#6aaa3a"/>
<rect x="323.10" y="316.00" width="2.60" height="2.60" fill="#6aaa3a"/>
<rect x="341.20" y="317.70" width="2.60" height="2.60" fill="#6aaa3a"/>
<rect x="358.70" y="318.70" width="2.60" height="2.60" fill="#6aaa3a"/>
<rect x="376.10" y="310.20" width="2.60" height="2.60" fill="#6aaa3a"/>
<rect x="394.10" y="296.10" width="2.60" height="2.60" fill="#6aaa3a"/>
<polyline points="294.00,319.60 307.10,315.90 324.40,311.20 341.80,294.50 360.00,272.70 377.20,250.90" fill="none" stroke="#a8203a" stroke-width="0.9" stroke-linejoin="round" />
<path d="M294.00,321.16 L295.30,318.56 L292.70,318.56Z" fill="#a8203a"/>
<path d="M307.10,317.46 L308.40,314.86 L305.80,314.86Z" fill="#a8203a"/>
<path d="M324.40,312.76 L325.70,310.16 L323.10,310.16Z" fill="#a8203a"/>
<path d="M341.80,296.06 L343.10,293.46 L340.50,293.46Z" fill="#a8203a"/>
<path d="M360.00,274.26 L361.30,271.66 L358.70,271.66Z" fill="#a8203a"/>
<path d="M377.20,252.46 L378.50,249.86 L375.90,249.86Z" fill="#a8203a"/>
<rect x="0" y="365" width="520" height="1" fill="#8a8a8a"/>
<rect x="0" y="366" width="520" height="1" fill="#2e2e2e"/>
<rect x="0" y="0" width="520" height="1" fill="#333"/>
<rect x="0" y="0" width="1" height="367" fill="#333"/>
<rect x="519" y="0" width="1" height="367" fill="#444"/>
</svg>
</body></html>
